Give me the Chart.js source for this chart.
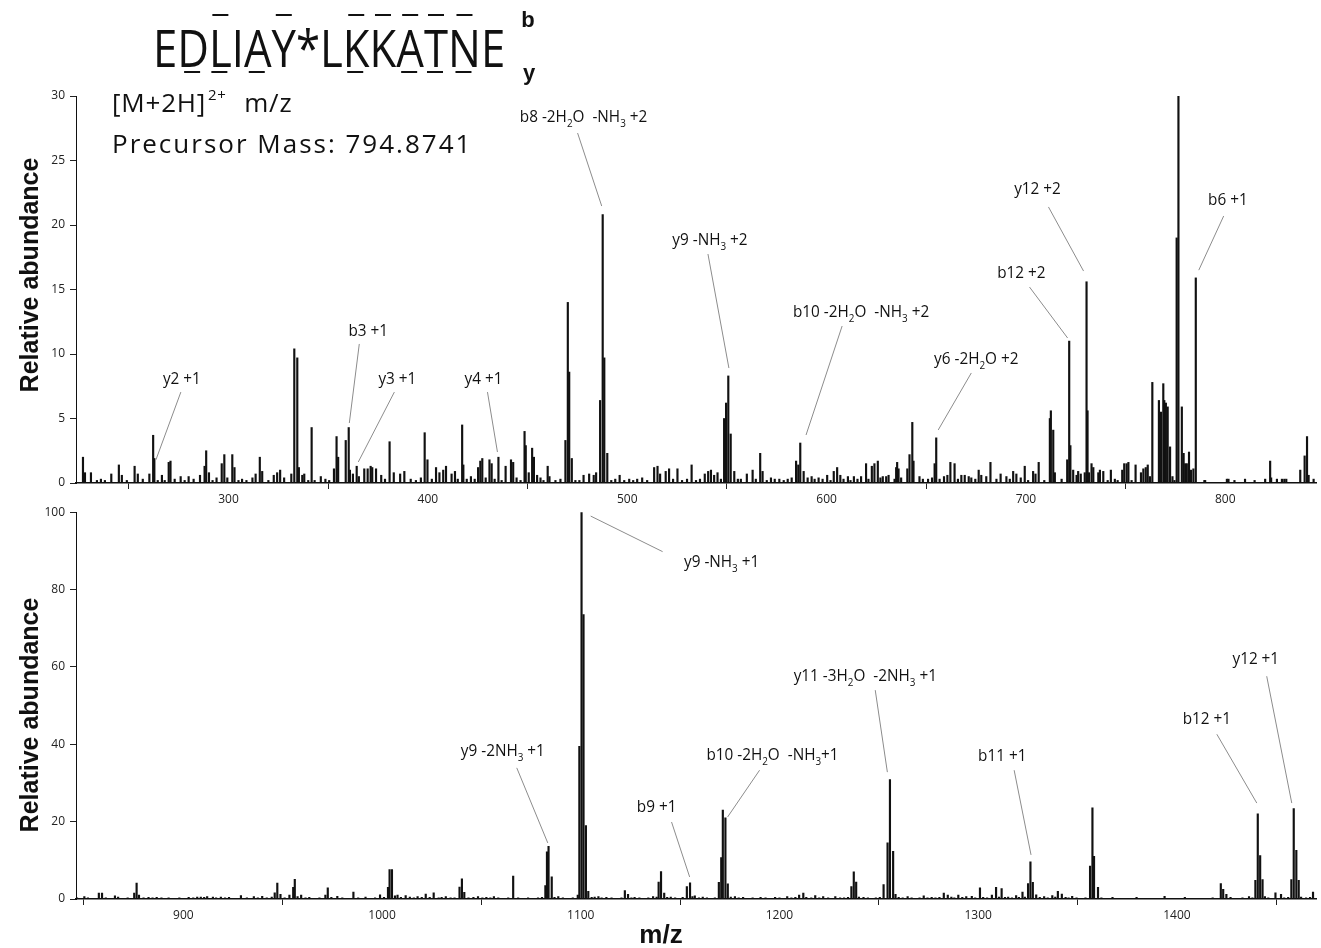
<!DOCTYPE html>
<html>
<head>
<meta charset="utf-8">
<title>MS/MS spectrum EDLIAY*LKKATNE</title>
<script src="https://cdn.jsdelivr.net/npm/chart.js@4.4.1/dist/chart.umd.min.js"></script>
<style>
  html, body { margin: 0; padding: 0; background: #fff; }
  body { width: 1321px; height: 948px; position: relative; overflow: hidden; }
  canvas { position: absolute; left: 0; }
  #topChart { top: 80px; }
  #bottomChart { top: 500px; }
  #overlay { top: 0; pointer-events: none; }
</style>
</head>
<body>
<canvas id="topChart" width="1321" height="440"></canvas>
<canvas id="bottomChart" width="1321" height="448"></canvas>
<canvas id="overlay" width="1321" height="948"></canvas>
<script>
// spectrum data (m/z, relative abundance)
const topMz = [227.0,228.0,231.0,234.0,236.0,238.0,241.2,245.0,246.5,249.0,252.9,254.5,257.0,260.3,262.2,262.8,264.5,266.6,268.0,270.0,270.9,273.0,276.0,278.0,280.0,282.5,285.7,288.0,288.8,290.2,292.0,294.0,296.6,297.9,299.4,301.9,303.0,305.0,306.8,309.0,312.0,313.6,315.7,316.9,320.0,322.7,324.4,325.9,327.9,331.5,333.0,334.5,335.3,337.0,338.0,340.0,341.7,343.2,346.3,348.6,350.5,352.9,354.2,355.0,358.8,360.3,360.9,362.4,364.3,365.4,368.1,369.8,371.3,372.1,374.0,376.6,378.5,380.8,382.9,386.1,388.2,391.4,394.0,396.5,398.4,399.8,402.0,404.1,405.8,407.7,409.1,411.9,413.6,415.0,417.2,417.8,419.5,421.6,423.5,425.2,426.3,427.3,429.0,430.9,432.0,433.5,435.4,437.0,439.0,441.7,442.8,444.5,446.5,448.5,449.1,450.6,452.3,453.2,454.8,456.5,458.0,460.1,461.0,464.0,466.5,469.0,470.2,470.9,472.2,474.0,476.0,478.1,480.9,483.2,484.4,486.4,487.7,488.5,490.0,492.0,494.0,496.2,498.5,501.0,503.0,505.0,507.5,510.0,513.5,515.2,516.5,519.3,521.0,523.0,525.2,527.5,530.0,532.3,534.5,536.5,538.9,540.6,542.0,543.6,545.3,547.0,548.6,549.6,550.7,551.9,553.7,555.5,557.0,560.0,562.9,564.5,566.7,567.9,570.0,572.1,574.0,576.3,578.5,580.5,582.5,584.7,585.8,586.8,588.5,590.5,592.5,594.0,596.0,598.0,600.3,602.0,603.6,605.3,606.9,608.5,610.7,612.0,613.7,615.5,617.3,619.8,621.0,622.7,624.0,625.7,627.0,628.2,629.9,631.1,634.1,634.9,635.4,636.1,637.4,640.5,641.6,643.0,643.6,646.6,648.3,650.9,652.9,654.2,655.0,656.7,658.9,660.6,662.1,664.2,665.9,667.6,669.3,671.3,672.6,674.6,676.3,677.6,680.1,682.2,685.2,687.3,690.2,691.9,693.6,695.2,697.4,699.4,701.1,703.6,704.8,706.4,709.2,712.0,712.5,713.7,714.5,717.9,720.7,721.7,722.3,723.7,725.4,726.2,727.5,729.5,730.4,730.9,731.6,732.9,733.8,736.3,737.1,738.8,741.0,742.6,744.6,746.0,748.3,749.3,750.5,751.4,753.0,755.0,757.7,758.9,760.1,761.1,762.2,763.4,766.7,767.7,768.9,769.4,770.2,771.1,772.3,773.5,774.5,775.6,776.5,778.2,779.1,779.9,780.7,781.8,782.8,784.0,785.2,789.5,789.9,800.8,801.6,804.6,809.9,814.7,820.0,822.5,823.0,825.9,828.4,829.6,830.6,837.6,839.8,841.0,841.8,844.3];
const topAbundance = [2.0,0.8,0.8,0.2,0.3,0.2,0.7,1.4,0.6,0.2,1.3,0.7,0.3,0.7,3.7,1.9,0.2,0.6,0.2,1.6,1.7,0.3,0.5,0.2,0.5,0.3,0.6,1.3,2.5,0.8,0.2,0.4,1.5,2.2,0.4,2.2,1.2,0.2,0.3,0.2,0.4,0.7,2.0,0.9,0.2,0.6,0.8,1.0,0.4,0.7,10.4,9.7,1.2,0.6,0.7,0.2,4.3,0.2,0.5,0.3,0.2,1.1,3.6,2.0,3.3,4.3,1.0,0.7,1.3,0.5,1.1,1.1,1.3,1.2,1.1,0.6,0.3,3.2,0.8,0.7,0.9,0.3,0.2,0.4,3.9,1.8,0.3,1.2,0.8,1.0,1.3,0.7,0.9,0.3,4.5,1.4,0.3,0.5,0.3,1.2,1.7,1.9,0.4,1.8,1.5,0.3,2.0,0.2,1.3,1.8,1.6,0.4,0.2,4.0,2.9,0.8,2.7,2.0,0.6,0.4,0.2,1.3,0.5,0.2,0.3,3.3,14.0,8.6,1.9,0.2,0.2,0.6,0.7,0.6,0.8,6.4,20.8,9.7,2.3,0.2,0.3,0.6,0.2,0.3,0.2,0.3,0.4,0.2,1.2,1.3,0.7,0.9,1.1,0.3,1.1,0.2,0.3,1.4,0.2,0.3,0.7,0.9,1.0,0.6,0.8,0.3,5.0,6.2,8.3,3.8,0.9,0.3,0.3,0.7,1.0,0.3,2.3,0.9,0.2,0.4,0.3,0.3,0.2,0.3,0.4,1.7,1.4,3.1,0.9,0.4,0.5,0.3,0.4,0.3,0.6,0.2,0.9,1.2,0.6,0.3,0.5,0.2,0.5,0.3,0.5,1.5,0.3,1.3,1.5,1.7,0.4,0.5,0.5,0.6,0.3,1.2,1.6,1.1,0.4,1.1,2.2,4.7,1.7,0.5,0.3,0.3,0.4,1.5,3.5,0.3,0.5,0.6,1.6,1.5,0.3,0.6,0.6,0.5,0.4,0.3,1.0,0.6,0.5,1.6,0.3,0.7,0.5,0.3,0.9,0.7,0.4,1.3,0.2,0.9,0.7,1.6,0.2,5.0,5.6,4.1,0.8,0.3,1.8,11.0,2.9,1.0,0.6,0.9,0.7,0.8,15.6,5.6,0.8,1.5,1.2,0.8,1.0,0.9,0.2,1.0,0.3,0.2,1.0,1.5,1.5,1.6,0.2,1.4,0.8,1.1,1.2,1.4,0.5,7.8,6.4,5.5,7.7,6.4,6.2,5.9,2.8,0.5,0.2,19.0,30.0,5.9,2.3,1.5,1.5,2.4,1.0,1.1,15.9,0.2,0.2,0.3,0.3,0.2,0.3,0.2,0.3,1.7,0.4,0.3,0.3,0.3,0.3,1.0,2.1,3.6,0.6,0.3];

const bottomMz = [846.5,848.0,850.2,852.0,854.0,857.5,859.1,861.0,863.0,865.6,867.2,869.5,872.0,875.3,876.5,877.7,880.0,882.5,884.5,886.6,889.0,892.6,895.5,898.0,900.5,902.7,905.0,907.0,908.8,910.5,912.0,914.9,916.5,918.9,921.0,923.0,926.0,929.0,932.0,935.5,937.5,939.7,942.0,944.5,946.0,947.3,948.9,951.0,953.4,955.3,956.1,957.5,959.3,961.5,963.4,966.0,968.5,971.5,972.7,974.5,977.5,980.0,982.5,985.6,988.0,991.7,994.0,996.5,999.0,1001.0,1003.0,1003.8,1005.0,1006.5,1007.8,1009.5,1011.9,1014.0,1016.0,1017.9,1020.0,1022.0,1024.0,1026.0,1028.5,1030.0,1032.1,1034.5,1036.5,1039.0,1040.2,1041.4,1043.5,1046.0,1048.3,1050.5,1052.5,1054.5,1056.3,1058.5,1061.0,1063.5,1066.0,1068.5,1071.0,1073.5,1076.0,1078.5,1080.5,1082.2,1083.0,1083.8,1085.4,1086.8,1088.7,1091.0,1093.5,1096.0,1098.5,1099.3,1100.4,1101.4,1102.6,1103.8,1105.5,1107.0,1108.9,1110.5,1112.9,1115.5,1118.0,1120.5,1122.2,1123.8,1125.5,1127.1,1129.5,1132.0,1134.0,1136.4,1138.2,1139.2,1140.4,1142.0,1143.5,1145.3,1147.5,1149.5,1151.3,1153.4,1155.0,1156.2,1157.4,1159.5,1161.4,1163.5,1165.5,1167.5,1169.5,1170.7,1171.5,1172.8,1174.0,1175.5,1177.6,1179.5,1181.7,1184.0,1186.5,1188.5,1190.5,1193.0,1195.5,1197.8,1200.0,1202.0,1203.9,1206.0,1208.0,1209.9,1212.0,1213.5,1216.0,1218.0,1220.0,1222.0,1224.5,1226.5,1228.1,1230.5,1232.5,1234.5,1236.2,1237.4,1238.6,1240.0,1242.3,1244.5,1246.5,1248.5,1250.5,1252.4,1254.4,1255.6,1257.2,1258.4,1260.0,1262.0,1264.5,1266.5,1268.5,1270.5,1272.6,1274.5,1276.6,1278.5,1280.5,1282.7,1284.7,1286.5,1288.0,1290.0,1292.0,1294.0,1296.8,1298.5,1300.9,1302.5,1304.5,1306.9,1309.0,1310.5,1311.8,1313.5,1315.1,1317.0,1319.1,1320.5,1322.3,1323.5,1325.1,1326.3,1327.5,1329.2,1331.0,1333.2,1335.0,1337.3,1338.8,1340.1,1342.1,1344.0,1345.5,1347.3,1349.5,1352.0,1354.0,1356.3,1357.5,1358.3,1360.3,1362.0,1365.0,1367.6,1371.0,1375.0,1379.7,1384.0,1389.0,1393.8,1398.0,1404.0,1408.0,1413.0,1418.0,1422.1,1423.3,1424.9,1427.0,1430.0,1433.0,1436.3,1438.0,1439.5,1440.7,1441.9,1443.1,1444.3,1446.0,1449.6,1452.4,1454.0,1456.0,1457.6,1458.8,1460.1,1461.3,1462.5,1465.0,1467.0,1468.5];
const bottomAbundance = [0.3,0.2,0.6,0.3,0.2,1.5,1.5,0.3,0.2,0.8,0.5,0.2,0.3,1.5,4.1,1.0,0.3,0.4,0.3,0.4,0.3,0.3,0.2,0.3,0.2,0.4,0.3,0.5,0.5,0.4,0.6,0.5,0.3,0.5,0.3,0.4,0.2,0.9,0.3,0.6,0.3,0.7,0.3,0.5,1.6,4.1,1.2,0.3,1.0,3.0,5.1,0.6,1.0,0.3,0.4,0.2,0.3,1.0,2.9,0.4,0.7,0.3,0.2,1.8,0.3,0.5,0.2,0.3,1.1,0.4,3.0,7.6,7.6,0.8,1.0,0.4,0.9,0.5,0.3,0.6,0.4,1.3,0.4,1.6,0.3,0.4,0.6,0.3,0.3,3.1,5.2,1.7,0.3,0.4,0.6,0.3,0.4,0.3,0.6,0.3,0.2,0.3,5.9,0.3,0.2,0.3,0.2,0.3,0.4,3.5,12.2,13.6,5.7,0.4,0.6,0.3,0.2,0.3,1.0,39.5,100,73.5,19.0,2.0,0.4,0.5,0.6,0.3,0.4,0.3,0.2,0.3,2.2,1.2,0.3,0.4,0.3,0.2,0.3,0.6,0.5,4.4,7.1,1.5,0.4,0.5,0.3,0.2,0.4,3.2,4.2,0.6,0.8,0.3,0.5,0.3,0.2,0.3,4.3,10.7,23.0,21.0,3.9,0.5,0.6,0.3,0.4,0.2,0.3,0.2,0.4,0.3,0.2,0.4,0.3,0.2,0.6,0.3,0.4,1.0,1.5,0.4,0.3,0.9,0.3,0.6,0.3,0.2,0.6,0.3,0.3,0.4,3.2,7.0,4.4,0.5,0.4,0.3,0.2,0.3,0.4,3.7,14.5,30.9,12.3,1.2,0.4,0.3,0.6,0.3,0.2,0.3,0.8,0.3,0.4,0.3,0.4,1.5,1.0,0.5,0.3,1.0,0.4,0.6,0.7,0.3,2.9,0.4,0.3,1.0,3.0,0.5,2.7,0.4,0.5,0.3,0.9,0.4,1.8,0.5,4.0,9.6,4.3,1.1,0.4,0.6,0.3,0.9,0.5,2.0,1.3,0.4,0.3,0.7,0.3,0.2,0.3,8.5,23.6,11.0,3.0,0.3,0.2,0.4,0.2,0.2,0.4,0.2,0.2,0.7,0.2,0.4,0.2,0.2,0.3,4.0,2.5,1.2,0.4,0.2,0.3,0.6,0.3,4.8,22.0,11.2,5.0,0.6,0.3,1.6,1.2,0.3,0.4,5.0,23.4,12.6,4.8,0.5,0.3,0.4,1.8];

const topXTicks = [300, 400, 500, 600, 700, 800];
const topYTicks = [0, 5, 10, 15, 20, 25, 30];
const bottomXTicks = [900, 1000, 1100, 1200, 1300, 1400];
const bottomYTicks = [0, 20, 40, 60, 80, 100];

// fragment labels: text spot, and leader line from -> to (in m/z / abundance units)
const topCallouts = [
  { text: 'y2 +1', at: [276.6, 8.14], from: [276.1, 7.05], to: [263.6, 1.8] },
  { text: 'b3 +1', at: [370.1, 11.86], from: [365.6, 10.78], to: [360.6, 4.65] },
  { text: 'y3 +1', at: [384.7, 8.14], from: [383.2, 7.05], to: [365.1, 1.63] },
  { text: 'y4 +1', at: [427.9, 8.14], from: [429.9, 7.05], to: [434.9, 2.4] },
  { text: 'b8 -2H_2O  -NH_3 +2', at: [478.1, 28.45], from: [475.1, 27.13], to: [487.2, 21.47] },
  { text: 'y9 -NH_3 +2', at: [541.5, 18.9], from: [540.5, 17.75], to: [551.0, 8.91] },
  { text: 'b10 -2H_2O  -NH_3 +2', at: [617.3, 13.33], from: [607.8, 12.17], to: [589.7, 3.72] },
  { text: 'y6 -2H_2O +2', at: [675.1, 9.69], from: [672.6, 8.53], to: [656.0, 4.11] },
  { text: 'b12 +2', at: [697.7, 16.36], from: [701.8, 15.19], to: [720.9, 11.24] },
  { text: 'y12 +2', at: [705.8, 22.87], from: [711.3, 21.4], to: [728.9, 16.43] },
  { text: 'b6 +1', at: [801.3, 22.0], from: [799.2, 20.7], to: [786.7, 16.5] }
];
const bottomCallouts = [
  { text: 'y9 -NH_3 +1', at: [1170.9, 87.3], from: [1105.0, 99.0], to: [1141.2, 89.8] },
  { text: 'y9 -2NH_3 +1', at: [1060.8, 38.5], from: [1067.8, 33.9], to: [1083.4, 14.5] },
  { text: 'b9 +1', at: [1138.2, 24.0], from: [1145.7, 19.9], to: [1154.8, 5.7] },
  { text: 'b10 -2H_2O  -NH_3+1', at: [1196.5, 37.5], from: [1190.0, 33.3], to: [1173.9, 21.2] },
  { text: 'y11 -3H_2O  -2NH_3 +1', at: [1243.2, 57.9], from: [1248.2, 54.0], to: [1254.3, 32.8] },
  { text: 'b11 +1', at: [1312.1, 37.2], from: [1318.1, 33.3], to: [1326.6, 11.4] },
  { text: 'b12 +1', at: [1415.1, 46.8], from: [1420.1, 42.6], to: [1440.2, 24.8] },
  { text: 'y12 +1', at: [1439.7, 62.3], from: [1445.2, 57.6], to: [1457.8, 24.8] }
];

const peptide = 'EDLIAY*LKKATNE';
const bIons = [2, 5, 8, 9, 10, 11, 12];   // letters with a mark above
const yIons = [1, 2, 4, 8, 10, 11, 12];   // letters with a mark below

const FONT = '"Open Sans", "DejaVu Sans", sans-serif';
const BOLD = '"Liberation Sans", Arial, sans-serif';

// text with _x subscripts and ^{..} superscripts
function parseRich(s) {
    const out = [];
    let i = 0;
    while (i < s.length) {
        if (s[i] === '_') { out.push({ t: s[i + 1], k: 'sub' }); i += 2; }
        else if (s[i] === '^') { const j = s.indexOf('}', i); out.push({ t: s.slice(i + 2, j), k: 'sup' }); i = j + 1; }
        else {
            let j = i;
            while (j < s.length && s[j] !== '_' && s[j] !== '^') j++;
            out.push({ t: s.slice(i, j), k: 'n' });
            i = j;
        }
    }
    return out;
}

function drawRich(ctx, str, cx, cy, size, sx) {
    const segs = parseRich(str);
    const small = Math.round(size * 0.62);
    ctx.save();
    ctx.fillStyle = '#111';
    ctx.textBaseline = 'alphabetic';
    let w = 0;
    segs.forEach(s => {
        ctx.font = (s.k === 'n' ? size : small) + 'px ' + FONT;
        s.w = ctx.measureText(s.t).width;
        w += s.w;
    });
    ctx.translate(cx, cy);
    ctx.scale(sx, 1);
    let x = -w / 2;
    const base = size * 0.357;
    segs.forEach(s => {
        ctx.font = (s.k === 'n' ? size : small) + 'px ' + FONT;
        const dy = s.k === 'sub' ? size * 0.28 : (s.k === 'sup' ? -size * 0.42 : 0);
        ctx.fillText(s.t, x, base + dy);
        x += s.w;
    });
    ctx.restore();
}

const calloutPlugin = {
    id: 'callouts',
    afterDraw(chart, args, opts) {
        const ctx = chart.ctx, xs = chart.scales.x, ys = chart.scales.y;
        (opts.items || []).forEach(c => {
            ctx.save();
            ctx.strokeStyle = '#8c8c8c';
            ctx.lineWidth = 1;
            ctx.beginPath();
            ctx.moveTo(xs.getPixelForValue(c.from[0]), ys.getPixelForValue(c.from[1]));
            ctx.lineTo(xs.getPixelForValue(c.to[0]), ys.getPixelForValue(c.to[1]));
            ctx.stroke();
            ctx.restore();
            drawRich(ctx, c.text, xs.getPixelForValue(c.at[0]), ys.getPixelForValue(c.at[1]), 17, 0.9);
        });
    }
};

function spectrum(id, mz, abundance, xMin, xMax, xTicks, yMax, yTicks, padTop, xAxisHeight, callouts) {
    const tickFont = { family: FONT, size: 12 };
    const plain = v => String(v);
    return new Chart(document.getElementById(id), {
        type: 'bar',
        data: {
            datasets: [{
                data: mz.map((m, i) => ({ x: m, y: abundance[i] })),
                backgroundColor: '#111',
                borderWidth: 0,
                barThickness: 1.5
            }]
        },
        options: {
            responsive: false,
            animation: false,
            devicePixelRatio: 1,
            layout: { padding: { top: padTop, right: 5, left: 0, bottom: 0 } },
            plugins: {
                legend: { display: false },
                tooltip: { enabled: false },
                callouts: { items: callouts }
            },
            scales: {
                x: {
                    type: 'linear',
                    min: xMin,
                    max: xMax,
                    offset: false,
                    afterBuildTicks: a => { a.ticks = xTicks.map(v => ({ value: v })); },
                    afterFit: a => { a.height = xAxisHeight; },
                    grid: { drawOnChartArea: false, drawTicks: true, tickLength: 6, color: '#222' },
                    border: { display: true, color: '#111', width: 1.5 },
                    ticks: { font: tickFont, color: '#222', padding: 3, maxRotation: 0, autoSkip: false, callback: plain }
                },
                y: {
                    min: 0,
                    max: yMax,
                    afterBuildTicks: a => { a.ticks = yTicks.map(v => ({ value: v })); },
                    afterFit: a => { a.width = 76; },
                    grid: { drawOnChartArea: false, drawTicks: true, tickLength: 6, color: '#222' },
                    border: { display: true, color: '#111', width: 1 },
                    ticks: { font: tickFont, color: '#222', padding: 5, callback: plain }
                }
            }
        },
        plugins: [calloutPlugin]
    });
}

function drawSpaced(ctx, text, x, y, spacing) {
    for (const ch of text) {
        ctx.fillText(ch, x, y);
        x += ctx.measureText(ch).width + spacing;
    }
    return x;
}

function drawHeader() {
    const ctx = document.getElementById('overlay').getContext('2d');
    ctx.fillStyle = '#111';
    ctx.textBaseline = 'alphabetic';

    // peptide sequence with fragment marks
    ctx.save();
    ctx.font = '52px ' + FONT;
    const sx = 0.84, x0 = 153;
    let acc = 0;
    [...peptide].forEach((ch, i) => {
        const w = ctx.measureText(ch).width;
        const cx = x0 + (acc + w / 2) * sx;
        ctx.save();
        ctx.translate(x0 + acc * sx, 67);
        ctx.scale(sx, 1);
        ctx.fillText(ch, 0, 0);
        ctx.restore();
        if (bIons.includes(i)) ctx.fillRect(cx - 8, 14, 16, 2);
        if (yIons.includes(i)) ctx.fillRect(cx - 9, 71, 16, 2);
        acc += w;
    });
    ctx.restore();

    ctx.font = 'bold 22px ' + BOLD;
    ctx.textAlign = 'center';
    ctx.fillText('b', 528, 27);
    ctx.fillText('y', 529, 80);
    ctx.textAlign = 'left';

    // precursor info
    ctx.font = '26px ' + FONT;
    let x = drawSpaced(ctx, '[M+2H]', 112, 112, 0.8);
    ctx.font = '15px ' + FONT;
    x = drawSpaced(ctx, '2+', x + 2, 100, 0.5);
    ctx.font = '26px ' + FONT;
    drawSpaced(ctx, 'm/z', x + 18, 112, 0.8);
    drawSpaced(ctx, 'Precursor Mass: 794.8741', 112, 153, 2);

    // axis titles
    ctx.font = 'bold 25px ' + BOLD;
    ctx.textAlign = 'center';
    ctx.textBaseline = 'middle';
    [275, 715].forEach(cy => {
        ctx.save();
        ctx.translate(31, cy);
        ctx.rotate(-Math.PI / 2);
        ctx.fillText('Relative abundance', 0, 0);
        ctx.restore();
    });
    ctx.font = 'bold 26px ' + BOLD;
    ctx.fillText('m/z', 661, 936);
}

spectrum('topChart', topMz, topAbundance, 223.5, 845.5, topXTicks, 30, topYTicks, 16, 37, topCallouts);
spectrum('bottomChart', bottomMz, bottomAbundance, 846, 1470, bottomXTicks, 100, bottomYTicks, 12, 49, bottomCallouts);
drawHeader();
</script>
</body>
</html>
